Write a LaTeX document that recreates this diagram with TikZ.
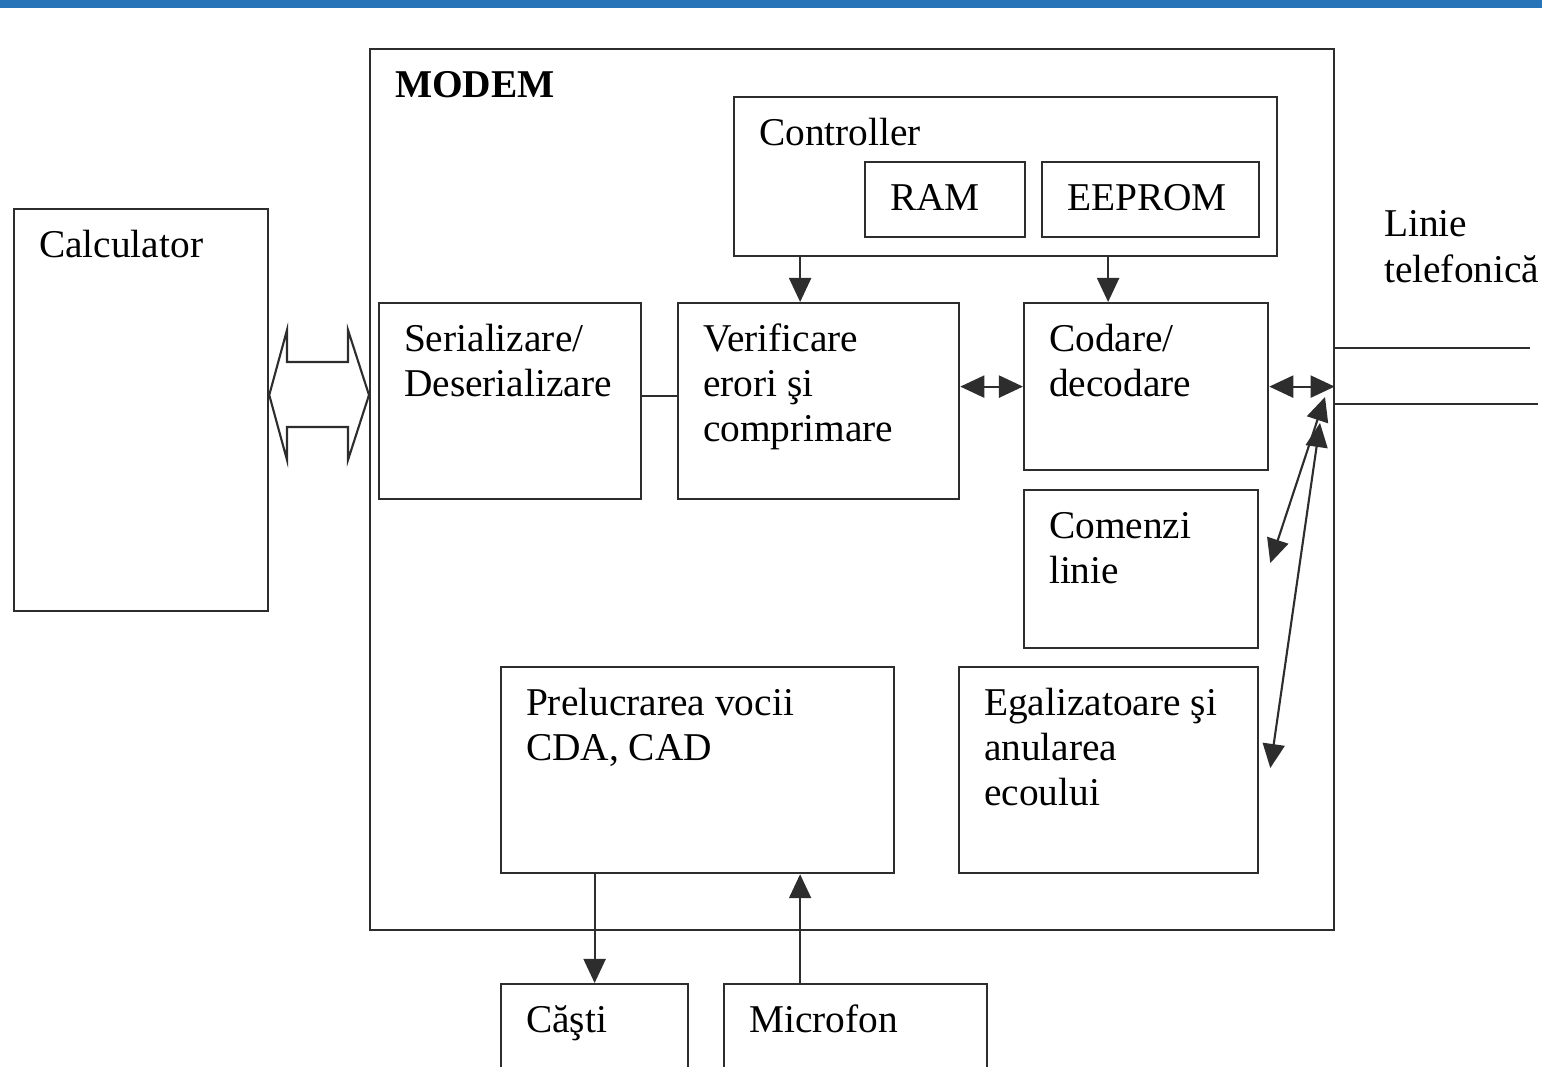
\documentclass[tikz,border=0pt]{standalone}
\usepackage{fontspec}
\setmainfont{Liberation Serif}
\usetikzlibrary{arrows.meta,calc}
\definecolor{barcolor}{RGB}{40,116,184}
\definecolor{linecolor}{RGB}{45,45,45}
\tikzset{
  schema/.style={
    x=0.01cm, y=-0.01cm,
    line cap=butt, line join=miter,
    color=linecolor, line width=0.6pt,
  },
  bloc/.style={draw=linecolor, line width=0.6pt, inner sep=0pt, anchor=north west},
  eticheta/.style={inner sep=0pt, anchor=base west, text=black,
    font=\fontsize{11.2pt}{12.9pt}\selectfont},
  sageata/.style={line width=0.6pt, -{Triangle[length=0.24cm,width=0.22cm]}},
  dublu/.style={line width=0.6pt, {Triangle[length=0.24cm,width=0.22cm]}-{Triangle[length=0.24cm,width=0.22cm]}},
}
% name, x, y (top left, px), width, height (cm), text
\newcommand{\bloc}[6]{%
  \node[bloc, minimum width=#4cm, minimum height=#5cm] (#1) at (#2,#3) {};
  \node[eticheta] (#1-t) at ([xshift=0.25cm,yshift=-0.49cm]#1.north west)
    {\begin{tabular}[t]{@{}l@{}}#6\end{tabular}};
}

\begin{document}
\begin{tikzpicture}[schema]
\clip (0,0) rectangle (1542,1067);
\fill[barcolor] (0,0) rectangle (1542,8);

\bloc{calc}{13}{208}{2.54}{4.02}{Calculator}
\bloc{modem}{369}{48}{9.63}{8.80}{\textbf{MODEM}}
\bloc{ctrl}{733}{96}{5.43}{1.59}{Controller}
\bloc{ram}{864}{161}{1.60}{0.75}{RAM}
\bloc{eeprom}{1041}{161}{2.17}{0.75}{EEPROM}
\bloc{ser}{378}{302}{2.62}{1.96}{Serializare/\\Deserializare}
\bloc{ver}{677}{302}{2.81}{1.96}{Verificare\\erori şi\\comprimare}
\bloc{cod}{1023}{302}{2.44}{1.67}{Codare/\\decodare}
\bloc{com}{1023}{489}{2.34}{1.58}{Comenzi\\linie}
\bloc{pre}{500}{666}{3.93}{2.06}{Prelucrarea vocii\\CDA, CAD}
\bloc{ega}{958}{666}{2.99}{2.06}{Egalizatoare şi\\anularea\\ecoului}
\bloc{cas}{500}{983}{1.87}{1.20}{Căşti}
\bloc{mic}{723}{983}{2.63}{1.20}{Microfon}

\node[eticheta] (linie) at (1383,237)
  {\begin{tabular}[t]{@{}l@{}}Linie\\telefonică\end{tabular}};

% linia telefonica
\draw (modem.east |- 0,348) -- (1530,348);
\draw (modem.east |- 0,404) -- (1538,404);

% magistrala calculator - modem
\draw (calc.east |- 0,395) -- (287,330) -- (287,362) -- (348,362) -- (348,330)
  -- (modem.west |- 0,395) -- (348,460) -- (348,427) -- (287,427) -- (287,460) -- cycle;

% legaturi
\draw ([yshift=0.05cm]ser.east) -- ([yshift=0.05cm]ser.east -| ver.west);
\draw[sageata] ([xshift=-0.185cm]ver.north |- ctrl.south) -- ([xshift=-0.185cm]ver.north);
\draw[sageata] ([xshift=-0.38cm]cod.north |- ctrl.south) -- ([xshift=-0.38cm]cod.north);
\draw[dublu] (ver.east |- cod.west) -- (cod.west);
\draw[dublu] (cod.east) -- (cod.east -| modem.east);
\coordinate (l1) at (1325,397);
\coordinate (l2) at (1320,423);
\draw[dublu] (l1) -- ([xshift=0.11cm]com.east |- 0,563);
\draw[dublu] (l2) -- ([xshift=0.11cm]ega.east |- 0,768);
\draw[sageata] (pre.south -| cas.north) -- (cas.north);
\draw[sageata] ([xshift=-0.555cm]mic.north) -- ([xshift=-0.555cm]mic.north |- pre.south);
\end{tikzpicture}
\end{document}
